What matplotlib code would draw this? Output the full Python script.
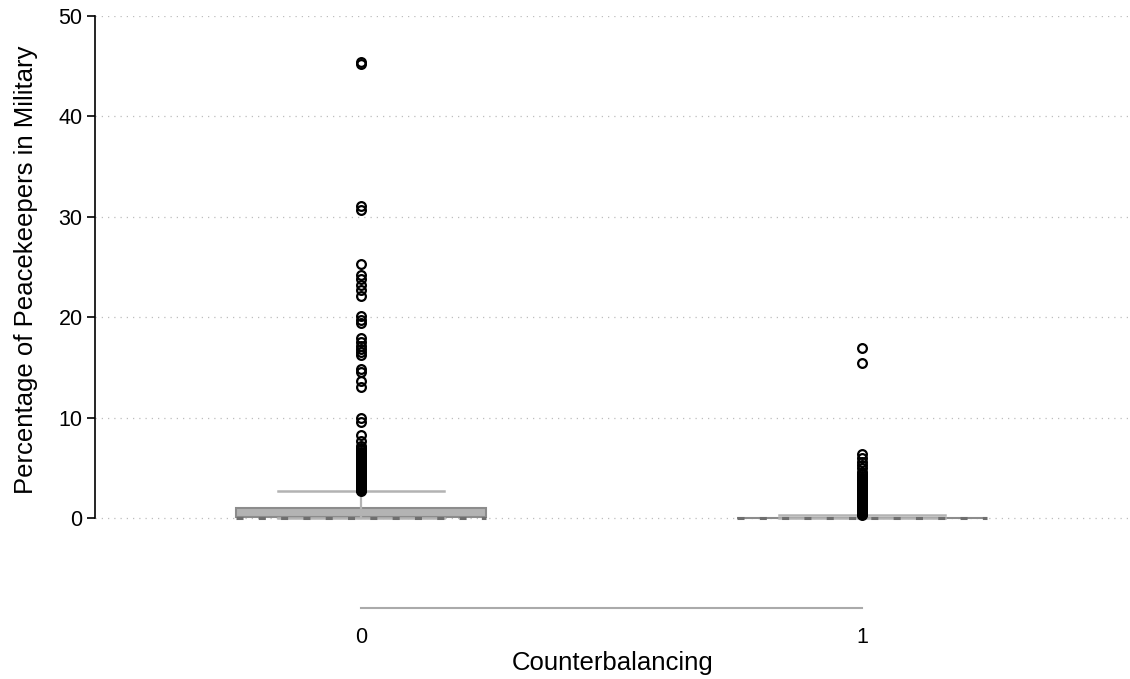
import matplotlib.pyplot as plt

plt.rcParams['font.family'] = ['Liberation Sans', 'DejaVu Sans']

# Counterbalancing groups and their summary stats
groups = ["0", "1"]
q1 = [0.15, 0.0]
median = [0.02, 0.0]
q3 = [0.95, 0.02]
whisker_low = [0.0, 0.0]
whisker_high = [2.7, 0.3]

# outliers beyond the upper whisker
outliers_0 = [2.7, 2.8, 2.9, 3.0, 3.1, 3.2, 3.3, 3.4, 3.5, 3.6, 3.7, 3.8, 3.9, 4.0,
              4.1, 4.2, 4.3, 4.4, 4.5, 4.6, 4.7, 4.8, 4.9, 5.0, 5.1, 5.2, 5.3, 5.4,
              5.5, 5.6, 5.7, 5.8, 5.9, 6.0, 6.1, 6.2, 6.3, 6.4, 6.5, 6.6, 6.8, 7.0,
              7.2, 7.7, 8.3, 9.6, 10.0, 13.0, 13.6, 14.5, 14.8, 16.2, 16.5, 16.8,
              17.1, 17.5, 17.9, 19.4, 19.7, 20.1, 22.1, 22.7, 23.2, 23.8, 24.2,
              25.3, 30.7, 31.1, 45.2, 45.4]
outliers_1 = [0.3, 0.4, 0.5, 0.6, 0.7, 0.8, 0.9, 1.0, 1.1, 1.2, 1.3, 1.4, 1.5, 1.6,
              1.7, 1.8, 1.9, 2.0, 2.1, 2.2, 2.3, 2.4, 2.5, 2.6, 2.7, 2.8, 2.9, 3.0,
              3.1, 3.2, 3.3, 3.4, 3.5, 3.6, 3.7, 3.8, 3.9, 4.0, 4.2, 4.4, 4.6, 5.0,
              5.3, 5.6, 6.0, 6.4, 15.4, 16.9]
outliers = [outliers_0, outliers_1]

stats = []
for i in range(len(groups)):
    stats.append(dict(q1=q1[i], med=median[i], q3=q3[i], whislo=whisker_low[i],
                      whishi=whisker_high[i], fliers=outliers[i], label=groups[i]))

fig = plt.figure(figsize=(11.3, 6.79), dpi=100)
ax = fig.add_axes([0.0841, 0.2297, 0.9159, 0.7467])

ax.bxp(stats, positions=[0, 1], widths=0.5, capwidths=0.33, patch_artist=True,
       boxprops=dict(facecolor='#b3b3b3', edgecolor='#8c8c8c', linewidth=1.5),
       medianprops=dict(color='#6e6e6e', linewidth=2.2, linestyle=(0, (2.3, 5))),
       whiskerprops=dict(color='#b3b3b3', linewidth=1.6),
       capprops=dict(color='#b3b3b3', linewidth=1.8),
       flierprops=dict(marker='o', markerfacecolor='none', markeredgecolor='black',
                       markersize=6.3, markeredgewidth=1.6))

ax.set_xlim(-0.531, 1.535)
ax.set_ylim(-0.5, 50)
ax.set_yticks([0, 10, 20, 30, 40, 50])
ax.yaxis.grid(True, linestyle=(0, (1, 4)), color='#bdbdbd', linewidth=0.9)
ax.set_axisbelow(True)

for side in ['top', 'right']:
    ax.spines[side].set_visible(False)
ax.spines['left'].set_bounds(0, 50)
ax.spines['left'].set_linewidth(1.2)
ax.spines['bottom'].set_bounds(0, 1)
ax.spines['bottom'].set_position(('outward', 61))
ax.spines['bottom'].set_color('#aaaaaa')
ax.spines['bottom'].set_linewidth(1.5)

ax.tick_params(axis='y', length=6, width=1.2, labelsize=15.5, pad=3)
ax.tick_params(axis='x', length=0, labelsize=15.5, pad=14)

ax.set_ylabel("Percentage of Peacekeepers in Military", fontsize=18.5, labelpad=15)
ax.set_xlabel("Counterbalancing", fontsize=18.5, labelpad=2)

fig.savefig("out.png", dpi=100)
